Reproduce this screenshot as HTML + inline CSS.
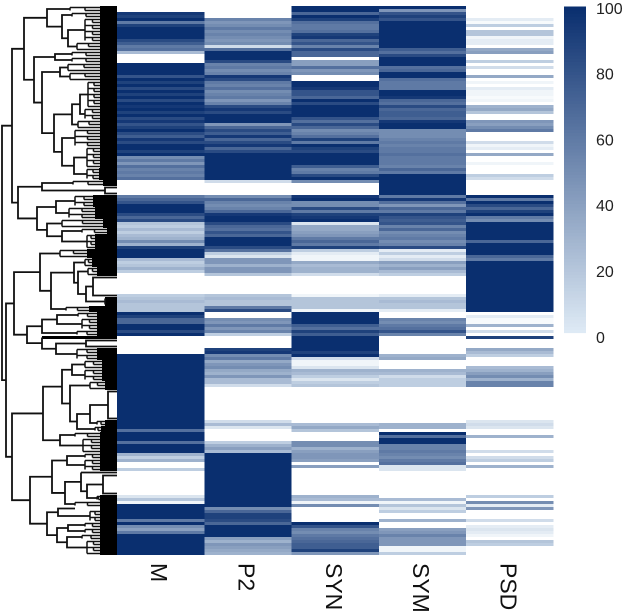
<!DOCTYPE html>
<html lang="en">
<head>
<meta charset="utf-8">
<title>Heatmap with row dendrogram</title>
<style>
html,body{margin:0;padding:0;background:#fff;width:625px;height:613px;overflow:hidden}
svg{display:block}
text{font-family:"Liberation Sans",Arial,sans-serif}
</style>
</head>
<body>
<svg id="chart" width="625" height="613" viewBox="0 0 625 613" xmlns="http://www.w3.org/2000/svg">
  <g id="dendrogram"></g>
  <g id="cells" shape-rendering="crispEdges"></g>
  <g id="xlabels"></g>
  <g id="colorbar"></g>
</svg>
<script>
const columns = ["M", "P2", "SYN", "SYM", "PSD"];
const seriesM = [
0,0,95,90,100,60,90,100,100,100,
100,85,75,60,65,25,0,0,0,100,
100,100,100,80,100,90,100,85,100,90,
100,85,100,95,100,90,100,85,95,80,
90,100,85,75,95,85,100,100,90,100,
50,60,45,65,55,60,55,65,0,0,
0,0,0,60,70,80,100,100,100,85,
70,85,20,15,25,15,25,30,50,30,
90,100,100,100,25,15,20,30,15,0,
0,0,0,0,0,0,15,20,25,20,
20,20,100,90,70,70,100,100,85,100,
0,0,0,0,0,0,100,100,100,100,
100,100,100,100,100,100,100,100,100,100,
100,100,100,100,100,100,100,100,100,100,
100,65,100,100,100,65,100,100,100,30,
15,30,0,0,15,0,0,0,0,0,
0,0,0,10,20,5,100,100,100,100,
100,60,100,50,40,60,100,100,100,100,
100,100,100];
const seriesP2 = [
0,0,0,0,55,45,50,60,50,55,
50,45,50,12,65,100,100,100,85,55,
60,50,55,95,85,60,55,65,50,55,
60,45,55,85,95,85,100,100,100,45,
70,85,75,95,70,85,95,70,85,100,
100,100,100,100,100,100,100,100,12,0,
0,0,0,50,70,55,50,55,70,95,
100,100,85,70,65,80,70,100,100,100,
85,65,15,10,45,45,30,45,45,20,
0,0,0,0,0,0,20,25,20,20,
60,85,0,0,50,45,60,45,55,15,
0,0,0,0,90,95,50,60,35,45,
50,35,30,45,25,25,12,0,0,0,
0,0,0,0,0,0,0,0,12,25,
10,0,0,0,0,15,30,40,25,100,
100,100,100,100,100,100,100,100,100,100,
100,100,100,100,100,100,100,50,70,90,
90,85,70,100,100,100,100,40,30,45,
40,35,30];
const seriesSYN = [
100,100,70,100,90,65,60,60,65,90,
95,70,80,55,85,70,70,0,40,40,
65,45,50,0,0,100,100,95,80,80,
70,100,85,100,100,100,100,80,65,85,
70,50,55,65,90,60,100,90,85,100,
100,100,100,75,55,60,85,100,50,0,
0,0,0,95,100,50,50,85,60,90,
95,100,10,35,35,40,45,60,70,60,
90,15,8,5,5,35,25,30,30,12,
0,0,0,0,0,0,5,20,20,20,
20,5,100,100,100,100,75,65,90,75,
100,100,100,100,100,90,100,12,5,5,
10,30,25,15,10,15,20,0,0,0,
0,0,0,0,0,0,0,0,0,25,
35,20,0,0,0,50,50,30,40,45,
45,40,0,40,0,0,0,0,0,0,
0,0,0,30,25,5,50,0,0,0,
0,0,100,80,55,50,60,65,70,75,
75,90,45];
const seriesSYM = [
100,45,80,90,80,100,100,100,100,100,
100,100,100,100,75,65,85,100,100,100,
65,70,100,100,65,60,60,60,100,100,
95,70,65,85,70,75,75,70,95,100,
100,50,50,50,55,60,55,60,60,65,
60,60,60,55,70,60,100,100,100,100,
100,100,100,60,95,65,45,70,60,90,
80,75,80,55,70,50,55,60,50,55,
85,8,15,8,12,40,30,40,25,15,
0,0,0,0,0,0,8,20,25,20,
20,8,0,0,55,50,60,65,80,55,
0,0,0,0,0,0,30,35,0,0,
0,30,25,12,15,15,15,0,0,0,
0,0,0,0,0,0,0,0,0,30,
30,0,100,65,100,100,55,55,60,55,
50,60,65,10,10,0,0,0,0,0,
0,0,0,0,25,5,20,10,15,0,
0,30,0,0,40,45,55,45,45,45,
5,5,15];
const seriesPSD = [
0,0,0,0,8,3,15,0,20,20,
5,8,8,0,35,40,0,0,15,0,
12,0,0,35,0,5,0,8,5,5,
3,5,0,30,35,20,0,0,45,40,
50,60,0,0,0,12,5,8,0,35,
0,0,5,0,0,0,15,12,0,0,
0,0,0,100,60,100,85,70,90,100,
60,50,100,100,100,100,100,100,70,100,
100,100,100,70,60,100,100,100,100,100,
100,100,100,100,100,100,100,100,100,100,
100,100,0,8,3,3,30,0,12,0,
90,0,0,0,35,25,15,0,0,0,
25,30,40,50,30,55,55,0,0,0,
0,0,0,0,0,0,0,0,10,12,
10,0,0,30,0,0,0,0,12,0,
12,15,0,30,0,0,0,0,0,0,
0,0,0,15,0,50,8,45,0,0,
0,12,0,8,10,8,5,0,20,15,
0,0,0];
const allSeries = [seriesM, seriesP2, seriesSYN, seriesSYM, seriesPSD];
const legendTicks = [0, 20, 40, 60, 80, 100];

/* Dendrogram: a merge is [height, childA, childB]; a leaf cluster is [height, rowCount, tipDepth] */
const dendroTop = [93,
  [70, [47,2,17], [55, [45,2,17], [49, [32,8,17], [40,3,17]]]],
  [83,
    [62, [45,2,17], [45,2,17]],
    [75,
      [57, [49,3,17], [47,3,17]],
      [63,
        [45, [37, [29,9,17], [32,4,17]], [39,3,17]],
        [55, [42,6,17], [43, [30,7,17], [30,4,18]]]]]]];
const dendroUpperMid = [99,
  [75, [44,2,14], [12,3,0]],
  [80,
    [61, [42,4,24], [48,4,22]],
    [70, [55,3,14], [55, [35,2,10], [30,5,22]]]]];
const dendroLowerMid = [103,
  [77, [57,3,30],
    [66, [43, [32,3,25], [39, [29,3,20], [31, [24,7,0], [12,3,12]]]], [51,2,28]]],
  [90,
    [75, [60, [39,2,20], [35,4,20]], [40,2,20]],
    [75, [75,1,75], [61, [31,3,0], [40,4,20]]]]];
const dendroBottom = [105,
  [74,
    [55,
      [45, [32,3,15], [32,4,15]],
      [47, [27,3,12], [40, [27, [9,10,0], [20,2,12]], [22,2,16]]]],
    [57, [42,2,17], [34,5,17]]],
  [87,
    [65,
      [50, [32,2,17], [32,4,17]],
      [52, [36, [36,1,0], [30, [14,7,0], [20,2,17]]], [42,2,17]]],
    [70,
      [59, [42,1,17], [27,4,17]],
      [60, [49, [32,2,17], [32,2,17]], [50, [35,2,17], [30,5,17]]]]]];
const dendroTree = [115, [105, dendroTop, dendroUpperMid], [111, dendroLowerMid, dendroBottom]];

const SVGNS = "http://www.w3.org/2000/svg";
const plotLeft = 117, plotTop = 6, colWidth = 87.3, rowHeight = 3;
const barLeft = 564, barWidth = 22, barTop = 6.5, barBottom = 332.5;
const tickZeroY = 337, tickTopY = 8;

function xCol(c) { return plotLeft + c * colWidth; }
function yRow(r) { return plotTop + r * rowHeight; }
function xDepth(h) { return plotLeft - h; }
function rampRGB(v) {
  const t = Math.min(v, 100) / 100;
  return [222 + (10 - 222) * t, 234 + (47 - 234) * t, 245 + (111 - 245) * t];
}
function toCss(c) {
  return "rgb(" + Math.round(c[0]) + "," + Math.round(c[1]) + "," + Math.round(c[2]) + ")";
}
function barColor(v) { return toCss(rampRGB(v)); }
function cellColor(v) {
  if (v <= 0) return "#ffffff";
  const c = rampRGB(v);
  if (v >= 15) return toCss(c);
  const k = v / 15;
  return toCss([255 + (c[0] - 255) * k, 255 + (c[1] - 255) * k, 255 + (c[2] - 255) * k]);
}

/* Heatmap cells */
const cellsG = document.getElementById("cells");
allSeries.forEach(function (values, c) {
  values.forEach(function (v, r) {
    const rect = document.createElementNS(SVGNS, "rect");
    
    
    rect.setAttribute("x", xCol(c));
    rect.setAttribute("y", yRow(r));
    rect.setAttribute("width", colWidth);
    rect.setAttribute("height", rowHeight);
    rect.setAttribute("fill", cellColor(v));
    cellsG.appendChild(rect);
  });
});

/* Column labels */
const xlabelsG = document.getElementById("xlabels");
columns.forEach(function (name, c) {
  const t = document.createElementNS(SVGNS, "text");
  
  
  const bx = xCol(c) + colWidth / 2 - 9.5;
  t.setAttribute("transform", "translate(" + bx + ",563) rotate(90)");
  t.setAttribute("font-size", "23");
  t.setAttribute("fill", "#111111");
  t.textContent = name;
  xlabelsG.appendChild(t);
});

/* Color legend */
const barG = document.getElementById("colorbar");
for (let v = 0; v <= 100; v++) {
  const seg = document.createElementNS(SVGNS, "rect");
  
  
  const h = (barBottom - barTop) / 101;
  seg.setAttribute("x", barLeft);
  seg.setAttribute("y", barBottom - (v + 1) * h);
  seg.setAttribute("width", barWidth);
  seg.setAttribute("height", h + 0.6);
  seg.setAttribute("fill", barColor(v));
  barG.appendChild(seg);
}
legendTicks.forEach(function (v) {
  const t = document.createElementNS(SVGNS, "text");
  
  
  t.setAttribute("x", 596);
  t.setAttribute("y", tickZeroY - (tickZeroY - tickTopY) * v / 100 + 5.8);
  t.setAttribute("font-size", "16");
  t.setAttribute("fill", "#222222");
  t.textContent = v;
  barG.appendChild(t);
});

/* Dendrogram */
const dendroG = document.getElementById("dendrogram");
let nextRow = 0;
function addBranch(d, width) {
  const p = document.createElementNS(SVGNS, "path");
  
  
  p.setAttribute("d", d);
  p.setAttribute("fill", "none");
  p.setAttribute("stroke", "#111111");
  p.setAttribute("stroke-width", width);
  dendroG.appendChild(p);
}
function addTip(x, y, w, h) {
  const r = document.createElementNS(SVGNS, "rect");
  
  
  r.setAttribute("x", x);
  r.setAttribute("y", y);
  r.setAttribute("width", w);
  r.setAttribute("height", h);
  r.setAttribute("fill", "#000000");
  dendroG.appendChild(r);
}
function layoutCluster(node) {
  const h = node[0], n = node[1], tip = node[2];
  const start = nextRow;
  nextRow += n;
  const x = xDepth(h);
  const top = yRow(start), bottom = yRow(start + n);
  const first = top + rowHeight / 2, last = bottom - rowHeight / 2;
  const mid = (top + bottom) / 2;
  if (tip === 0) {
    if (n === 1) {
      addBranch("M" + x + " " + mid + "H" + plotLeft, 1.8);
    } else {
      addBranch("M" + plotLeft + " " + first + "H" + x + "V" + last + "H" + plotLeft, 1.8);
    }
    return { x: x, y: mid };
  }
  const edge = plotLeft - tip;
  addTip(edge, top, tip, bottom - top);
  if (n > 1) {
    let d = "M" + x + " " + first + "V" + last;
    for (let i = 0; i < n; i++) {
      const ry = first + i * rowHeight;
      const sx = (i % 2 === 0) ? x : (x + edge) / 2;
      d += "M" + sx + " " + ry + "H" + edge;
      if (i % 2 === 1) d += "M" + sx + " " + (ry - rowHeight) + "V" + ry;
    }
    addBranch(d, 1.5);
  }
  return { x: x, y: mid };
}
function layout(node) {
  if (typeof node[1] === "number") return layoutCluster(node);
  const a = layout(node[1]);
  const b = layout(node[2]);
  const x = xDepth(node[0]);
  addBranch("M" + a.x + " " + a.y + "H" + x + "V" + b.y + "H" + b.x, 1.8);
  return { x: x, y: (a.y + b.y) / 2 };
}
layout(dendroTree);
</script>
</body>
</html>
